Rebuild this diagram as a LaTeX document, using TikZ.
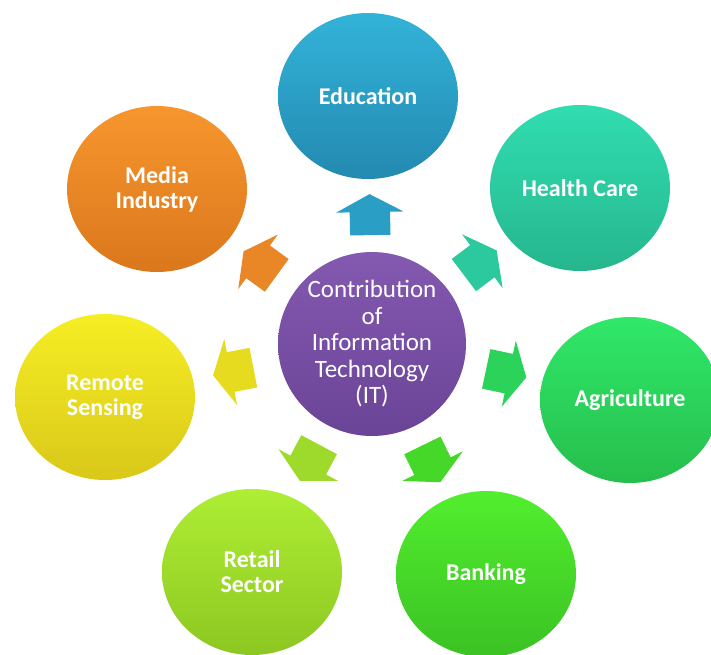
\documentclass[tikz,border=0pt]{standalone}
\usepackage{fontspec}
\setmainfont{Carlito}
\usepackage{tikz}
\usetikzlibrary{shapes.geometric}
\usetikzlibrary{shapes.arrows}
\usetikzlibrary{calc}
\definecolor{hubA}{HTML}{8459B0}
\definecolor{hubB}{HTML}{6A4497}
\definecolor{eduA}{HTML}{33B3D9}
\definecolor{eduB}{HTML}{2389B0}
\definecolor{hcA}{HTML}{31DDB0}
\definecolor{hcB}{HTML}{26B68E}
\definecolor{agA}{HTML}{30E86A}
\definecolor{agB}{HTML}{26BE4C}
\definecolor{bkA}{HTML}{52EE2E}
\definecolor{bkB}{HTML}{3BC224}
\definecolor{rtA}{HTML}{AEEE34}
\definecolor{rtB}{HTML}{8DC722}
\definecolor{rsA}{HTML}{F6EE24}
\definecolor{rsB}{HTML}{D9C81A}
\definecolor{mdA}{HTML}{F7962E}
\definecolor{mdB}{HTML}{DB771C}
\tikzstyle{sector}=[ellipse, inner sep=0pt, minimum width=180pt, minimum height=166pt, text=white, align=center, font=\bfseries\fontsize{24}{25}\selectfont]
\tikzstyle{hub}=[ellipse, inner sep=0pt, minimum width=188pt, minimum height=184pt, text=white, align=center, font=\fontsize{25}{26.5}\selectfont, top color=hubA, bottom color=hubB]
\tikzstyle{push}=[single arrow, inner xsep=0pt, inner ysep=20pt, minimum height=41pt, single arrow head extend=13.5pt, single arrow tip angle=124, single arrow head indent=0pt]

\begin{document}
\begin{tikzpicture}[x=1pt, y=-1pt]
        \useasboundingbox (0,0) rectangle (711,654);
        \node[hub] (it) at (372,344) {Contribution\\of\\Information\\Technology\\(IT)};
        \node[sector, top color=eduA, bottom color=eduB] (edu) at (368,96) {Education};
        \node[sector, top color=hcA, bottom color=hcB] (hc) at (580,188) {Health Care};
        \node[sector, top color=agA, bottom color=agB] (agri) at (630,400) {Agriculture};
        \node[sector, top color=bkA, bottom color=bkB] (bank) at (486,574) {Banking};
        \node[sector, top color=rtA, bottom color=rtB] (retail) at (252,572) {Retail\\Sector};
        \node[sector, top color=rsA, bottom color=rsB] (remote) at (105,397) {Remote\\Sensing};
        \node[sector, top color=mdA, bottom color=mdB] (media) at (157,189) {Media\\Industry};
        \node[push, fill=eduA!50!eduB, rotate=91] (aedu) at ($(it)!0.5!(edu)$) {};
        \node[push, fill=hcA!50!hcB, rotate=37] (ahc) at ($(it)!0.5!(hc)$) {};
        \node[push, fill=agA!50!agB, rotate=-12] (aagri) at ($(it)!0.5!(agri)$) {};
        \node[push, fill=bkA!50!bkB, rotate=-64] (abank) at ($(it)!0.5!(bank)$) {};
        \node[push, fill=rtA!50!rtB, rotate=-118] (aretail) at ($(it)!0.5!(retail)$) {};
        \node[push, fill=rsA!50!rsB, rotate=191] (aremote) at ($(it)!0.5!(remote)$) {};
        \node[push, fill=mdA!50!mdB, rotate=144] (amedia) at ($(it)!0.5!(media)$) {};
    \end{tikzpicture}
\end{document}
